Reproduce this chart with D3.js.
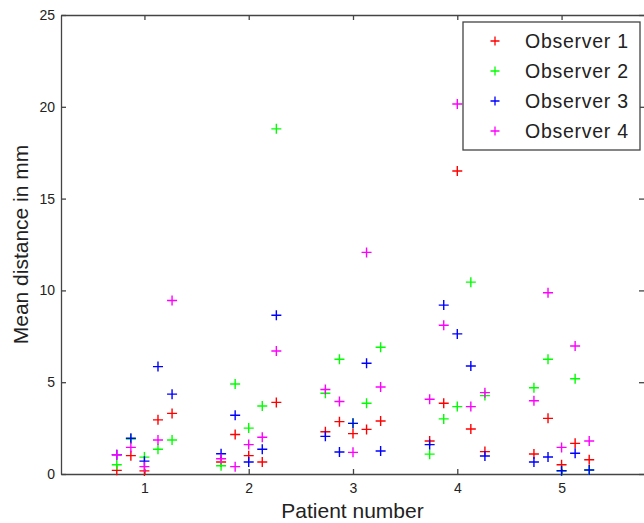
<!DOCTYPE html>
<html>
<head>
<meta charset="utf-8">
<script src="https://cdn.jsdelivr.net/npm/d3@7"></script>
<style>
  body { margin: 0; background: #fff; }
  svg { display: block; font-family: "Liberation Sans", Arial, sans-serif; }
  .axis path, .axis line { stroke: #444; stroke-width: 1.3; }
  .axis text { fill: #222; font-size: 14px; }
</style>
</head>
<body>
<div id="chart"></div>
<script>
// patients along x, five scans per patient
var patients = [1, 2, 3, 4, 5];
var scanOffsets = [-0.265, -0.13, 0, 0.13, 0.265];

// mean distance (mm), 5 scans per patient, patient 1..5 in order
var observer1 = [0.2, 1.0, 0.17, 2.95, 3.3,   0.65, 2.15, 1.0, 0.65, 3.9,   2.3, 2.85, 2.2, 2.43, 2.89,   1.8, 3.85, 16.5, 2.45, 1.22,   1.09, 3.03, 0.5, 1.67, 0.78];
var observer2 = [0.5, 1.9, 0.92, 1.35, 1.85,  0.45, 4.9, 2.5, 3.7, 18.8,    4.4, 6.25, 2.76, 3.85, 6.9,    1.08, 3.0, 3.67, 10.45, 4.27,  4.7, 6.25, 0.18, 5.19, 0.22];
var observer3 = [1.05, 1.95, 0.7, 5.85, 4.35, 1.1, 3.2, 0.65, 1.35, 8.65,   2.05, 1.2, 2.76, 6.03, 1.25,   1.6, 9.2, 7.63, 5.88, 0.98,    0.65, 0.93, 0.18, 1.13, 0.22];
var observer4 = [1.05, 1.45, 0.4, 1.85, 9.45, 0.83, 0.4, 1.6, 2.0, 6.7,     4.6, 3.95, 1.18, 12.07, 4.74,  4.07, 8.1, 20.15, 3.67, 4.43,  3.99, 9.87, 1.45, 6.97, 1.8];

var seriesNames = ["Observer 1", "Observer 2", "Observer 3", "Observer 4"];
var seriesColors = ["#ff0000", "#00ff00", "#0000ff", "#ff00ff"];
var yTicks = [0, 5, 10, 15, 20, 25];

var series = [observer1, observer2, observer3, observer4];

var width = 644, height = 523;
var margin = { top: 15, right: -1, bottom: 49, left: 61 };

var svg = d3.select("#chart").append("svg")
    .attr("width", width)
    .attr("height", height);

svg.append("rect").attr("width", width).attr("height", height).attr("fill", "#fff");

// right edge of the box sits just past the picture border, as in the original crop
var x = d3.scaleLinear().domain([0.2, 5.8]).range([margin.left, width - margin.right]);
var y = d3.scaleLinear().domain([0, 25]).range([height - margin.bottom, margin.top]);

// axes, ticks pointing inward like matlab
svg.append("g")
    .attr("class", "axis")
    .attr("transform", "translate(0," + (height - margin.bottom) + ")")
    .call(d3.axisBottom(x).tickValues(patients).tickSize(-5).tickSizeOuter(0).tickPadding(9).tickFormat(d3.format("d")));

svg.append("g")
    .attr("class", "axis")
    .attr("transform", "translate(" + margin.left + ",0)")
    .call(d3.axisLeft(y).tickValues(yTicks).tickSize(-5).tickSizeOuter(0).tickPadding(6));

svg.append("g")
    .attr("class", "axis")
    .attr("transform", "translate(0," + margin.top + ")")
    .call(d3.axisTop(x).tickValues(patients).tickSize(-5).tickSizeOuter(0).tickFormat(""));

svg.append("g")
    .attr("class", "axis")
    .attr("transform", "translate(" + (width - margin.right) + ",0)")
    .call(d3.axisRight(y).tickValues(yTicks).tickSize(-6).tickSizeOuter(0).tickFormat(""));

// axis titles
svg.append("text")
    .attr("x", (margin.left + width) / 2)
    .attr("y", 518)
    .attr("text-anchor", "middle")
    .attr("font-size", 21)
    .attr("fill", "#222")
    .text("Patient number");

svg.append("text")
    .attr("transform", "translate(28," + ((margin.top + height - margin.bottom) / 2) + ") rotate(-90)")
    .attr("text-anchor", "middle")
    .attr("font-size", 21)
    .attr("fill", "#222")
    .text("Mean distance in mm");

// plus markers
var plus = "M-5,0H5M0,-5V5";

series.forEach(function(values, s) {
    var pts = values.map(function(v, i) {
        return { x: patients[Math.floor(i / 5)] + scanOffsets[i % 5], y: v };
    });
    svg.append("g").selectAll("path")
        .data(pts)
        .enter().append("path")
        .attr("d", plus)
        .attr("transform", d => "translate(" + x(d.x) + "," + y(d.y) + ")")
        .attr("stroke", seriesColors[s])
        .attr("stroke-width", 1.4)
        .attr("fill", "none");
});

// legend
var legend = svg.append("g").attr("transform", "translate(463,22)");
legend.append("rect")
    .attr("width", 177).attr("height", 128)
    .attr("fill", "#fff").attr("stroke", "#444").attr("stroke-width", 1.3);

seriesNames.forEach(function(name, i) {
    var row = legend.append("g").attr("transform", "translate(0," + (19 + i * 30) + ")");
    row.append("path")
        .attr("d", "M-4.5,0H4.5M0,-4.5V4.5")
        .attr("transform", "translate(32,0)")
        .attr("stroke", seriesColors[i])
        .attr("stroke-width", 1.3);
    row.append("text")
        .attr("x", 62).attr("y", 7)
        .attr("font-size", 19.5)
        .attr("textLength", 103)
        .attr("fill", "#222")
        .text(name);
});
</script>
</body>
</html>
